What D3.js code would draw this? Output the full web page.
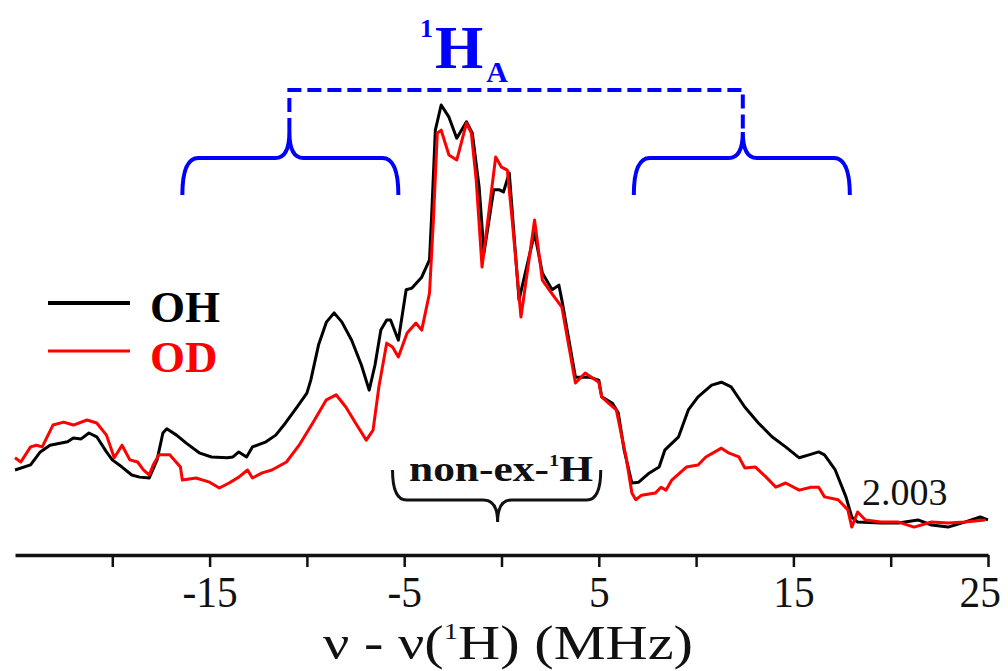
<!DOCTYPE html>
<html>
<head>
<meta charset="utf-8">
<script src="https://cdn.jsdelivr.net/npm/d3@7"></script>
<style>
  body { margin: 0; background: #fff; }
  svg { display: block; font-family: "Liberation Serif", "Times New Roman", serif; }
</style>
</head>
<body>
<div id="chart"></div>
<script>
// ENDOR spectra, OH vs OD (arbitrary intensity units)
const ohMHz = [-25.0,-24.2,-23.7,-23.2,-22.3,-22.0,-21.6,-21.2,-20.8,-20.3,-20.0,-19.5,-19.0,-18.6,-18.1,-17.7,-17.4,-17.2,-16.7,-16.2,-15.5,-14.9,-14.1,-13.8,-13.5,-13.1,-12.8,-12.1,-11.6,-11.1,-10.5,-10.0,-9.8,-9.4,-9.0,-8.6,-8.2,-7.7,-7.2,-6.8,-6.5,-6.2,-5.9,-5.7,-5.3,-4.9,-4.6,-4.1,-3.7,-3.6,-3.4,-3.1,-2.7,-2.3,-1.8,-1.5,-1.15,-0.9,-0.4,-0.1,0.1,0.4,0.9,1.7,2.1,2.6,2.95,3.1,3.8,4.5,5.0,5.15,5.7,6.0,6.3,6.7,7.05,7.6,8.1,8.4,9.1,9.6,10.1,10.8,11.3,11.8,12.5,13.2,13.9,14.6,15.3,15.8,16.3,16.6,17.15,17.7,18.0,18.3,19.5,20.4,21.4,22.1,22.95,23.8,24.6,25.0];
const ohInt = [13.1,14.3,17.4,19.0,19.8,20.7,20.5,21.9,21.0,17.4,15.5,13.8,11.9,11.4,11.2,15.5,21.9,22.9,21.4,19.5,17.1,16.2,16.0,16.2,17.4,16.2,18.6,19.8,21.4,24.3,28.1,31.4,34.5,42.9,48.3,50.5,48.3,44.0,38.1,32.1,38.1,46.4,48.8,48.8,44.0,56.0,56.4,59.0,63.1,72.6,94.0,100,97.1,92.1,96.0,93.3,80.5,64.8,79.8,79.8,79.3,83.8,53.6,69.5,60.0,56.0,57.1,53.6,35.2,35.2,34.5,30.5,29.0,26.7,17.9,10.0,10.2,12.4,13.8,17.9,21.0,27.4,30.5,33.3,34.0,32.9,28.1,24.3,21.0,18.6,16.0,16.7,17.4,16.7,13.1,6.7,1.9,0.7,0.5,0.5,1.2,0.0,-0.5,0.7,1.9,1.2];

const odMHz = [-25.0,-24.7,-24.2,-23.9,-23.6,-23.05,-22.5,-22.0,-21.3,-20.8,-20.3,-19.9,-19.5,-19.1,-18.7,-18.4,-18.1,-17.9,-17.6,-17.05,-16.5,-16.4,-15.7,-15.0,-14.5,-14.0,-13.5,-13.05,-12.8,-12.3,-11.8,-11.05,-10.4,-9.7,-9.0,-8.5,-8.0,-7.5,-6.95,-6.6,-6.3,-5.9,-5.6,-5.3,-4.85,-4.4,-4.1,-3.7,-3.5,-3.3,-3.1,-2.7,-2.3,-1.8,-1.55,-1.3,-1.0,-0.3,0.0,0.3,0.55,1.0,1.7,2.1,2.45,3.1,3.8,4.3,5.0,5.15,5.5,5.9,6.4,6.7,6.9,7.2,7.9,8.2,8.45,8.75,9.5,10.1,10.5,11.3,11.7,12.2,12.5,13.05,13.6,14.1,14.6,15.3,15.9,16.3,16.6,17.3,17.8,18.0,18.3,18.7,19.5,20.4,21.2,22.1,22.95,23.8,24.85];
const odInt = [16.0,15.0,18.6,19.0,18.6,23.8,24.5,23.8,25.0,24.3,21.4,16.0,19.0,15.5,15.0,13.1,11.9,14.3,16.7,16.7,13.8,10.7,11.2,10.2,8.8,10.0,11.4,13.1,11.2,12.4,13.1,15.0,19.0,24.3,29.8,31.0,28.1,24.3,20.2,22.6,32.9,43.3,42.4,40.0,45.7,48.1,46.4,55.2,72.6,93.3,94.0,88.1,86.9,95.7,93.3,82.1,61.4,87.6,85.2,84.5,72.6,49.5,72.6,58.3,56.0,51.9,33.8,36.2,34.0,30.5,29.0,27.4,16.2,7.6,6.0,7.1,7.6,9.0,8.3,10.7,13.8,14.3,16.2,18.3,17.1,16.2,13.6,13.8,11.4,9.0,10.0,8.3,9.0,9.0,6.7,6.0,3.6,-0.5,3.1,1.2,0.7,0.7,-0.5,0.7,0.5,0.7,1.2];

const tickValues = [-20, -15, -10, -5, 0, 5, 10, 15, 20, 25];
const tickLabels = ["", "-15", "", "-5", "", "5", "", "15", "", "25"];
const seriesNames = ["OH", "OD"];
const seriesColors = ["#000000", "#ff0000"];

// braces: [from MHz, to MHz, tip MHz]
const hABraces = [[-16.4, -5.3, -10.9], [6.8, 17.9, 12.4]];
const nonExBrace = [-5.6, 5.1, -0.2];

const W = 1008, H = 671;
const svg = d3.select("#chart").append("svg")
    .attr("width", W)
    .attr("height", H);

const x = d3.scaleLinear().domain([-25, 25]).range([15, 988]);
const y = d3.scaleLinear().domain([0, 100]).range([525, 105]);

const line = d3.line()
    .x(d => x(d[0]))
    .y(d => y(d[1]));

const ohData = ohMHz.map((m, i) => [m, ohInt[i]]);
const odData = odMHz.map((m, i) => [m, odInt[i]]);

svg.append("path")
    .datum(ohData)
    .attr("d", line)
    .attr("fill", "none")
    .attr("stroke", seriesColors[0])
    .attr("stroke-width", 3)
    .attr("stroke-linejoin", "round");

svg.append("path")
    .datum(odData)
    .attr("d", line)
    .attr("fill", "none")
    .attr("stroke", seriesColors[1])
    .attr("stroke-width", 3)
    .attr("stroke-linejoin", "round");

// x axis
const axisY = 555;
const axis = svg.append("g")
    .attr("transform", `translate(0,${axisY})`)
    .call(d3.axisBottom(x)
        .tickValues(tickValues)
        .tickFormat((d, i) => tickLabels[i])
        .tickSizeInner(12)
        .tickSizeOuter(0)
        .tickPadding(8));
axis.select(".domain").attr("stroke-width", 3.5).attr("stroke", "#111");
axis.selectAll(".tick line").attr("stroke-width", 2.5).attr("stroke", "#111");
axis.selectAll(".tick text")
    .attr("fill", "#111")
    .attr("transform", "scale(0.92,1)")
    .attr("dx", d => d === 25 ? -9 : 0)
    .style("font-family", "Liberation Serif")
    .style("font-size", "45px");

// axis title
const title = svg.append("text")
    .attr("x", 508)
    .attr("y", 659)
    .attr("text-anchor", "middle")
    .attr("fill", "#111")
    .attr("textLength", 370)
    .attr("lengthAdjust", "spacingAndGlyphs")
    .style("font-size", "49px");
title.append("tspan").text("ν - ν(");
title.append("tspan").attr("dy", -20).style("font-size", "24px").text("1");
title.append("tspan").attr("dy", 20).text("H) (MHz)");

// legend
seriesNames.forEach((name, i) => {
    const ly = 303 + i * 48;
    svg.append("line")
        .attr("x1", 48).attr("x2", 130)
        .attr("y1", ly).attr("y2", ly)
        .attr("stroke", seriesColors[i])
        .attr("stroke-width", i === 0 ? 4 : 3);
    svg.append("text")
        .attr("x", 150)
        .attr("y", 322 + i * 50)
        .attr("fill", seriesColors[i])
        .style("font-size", "45px")
        .style("font-weight", "bold")
        .text(name);
});

// curly brace helper
function brace(x1, x2, xt, yEnd, yMid, yTip, r) {
    return `M${x1},${yEnd} Q${x1},${yMid} ${x1 + r},${yMid} L${xt - 14},${yMid} ` +
        `Q${xt},${yMid} ${xt},${yTip} Q${xt},${yMid} ${xt + 14},${yMid} ` +
        `L${x2 - r},${yMid} Q${x2},${yMid} ${x2},${yEnd}`;
}

const blue = "#0000ff";
hABraces.forEach(b => {
    svg.append("path")
        .attr("d", brace(x(b[0]), x(b[1]), x(b[2]), 195, 158, 132, 16))
        .attr("fill", "none")
        .attr("stroke", blue)
        .attr("stroke-width", 4);
});

// dashed bracket joining the two 1H_A braces
svg.append("path")
    .attr("d", `M${x(hABraces[0][2])},132 L${x(hABraces[0][2])},90 L${x(hABraces[1][2])},90 L${x(hABraces[1][2])},132`)
    .attr("fill", "none")
    .attr("stroke", blue)
    .attr("stroke-width", 4)
    .attr("stroke-dasharray", "14,6");

// 1H_A label
const ha = svg.append("text")
    .attr("x", 420)
    .attr("y", 68)
    .attr("fill", blue)
    .style("font-weight", "bold")
    .style("font-size", "62px");
ha.append("tspan").attr("dy", -31).style("font-size", "26px").text("1");
ha.append("tspan").attr("dy", 31).attr("dx", 2).text("H");
ha.append("tspan").attr("dy", 14).attr("dx", 3).style("font-size", "30px").text("A");

// non-exchangeable 1H brace
svg.append("path")
    .attr("d", brace(x(nonExBrace[0]), x(nonExBrace[1]), x(nonExBrace[2]), 470, 500, 522, 14))
    .attr("fill", "none")
    .attr("stroke", "#111")
    .attr("stroke-width", 3);

const ne = svg.append("text")
    .attr("x", 501)
    .attr("y", 481)
    .attr("text-anchor", "middle")
    .attr("fill", "#111")
    .attr("textLength", 184)
    .attr("lengthAdjust", "spacingAndGlyphs")
    .style("font-weight", "bold")
    .style("font-size", "36px");
ne.append("tspan").text("non-ex-");
ne.append("tspan").attr("dy", -15).style("font-size", "17px").text("1");
ne.append("tspan").attr("dy", 15).text("H");

svg.append("text")
    .attr("x", 862)
    .attr("y", 505)
    .attr("fill", "#111")
    .style("font-size", "38px")
    .text("2.003");
</script>
</body>
</html>
